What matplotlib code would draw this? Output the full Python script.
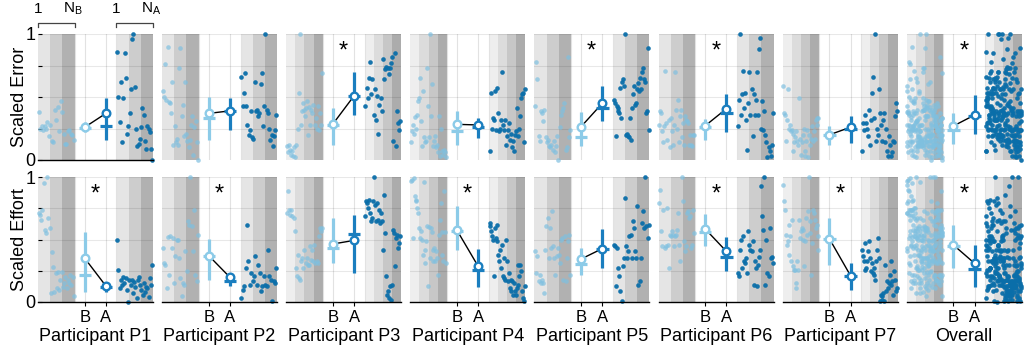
import numpy as np
import matplotlib.pyplot as plt
from matplotlib.transforms import blended_transform_factory

plt.rcParams['font.family'] = ['Liberation Sans', 'DejaVu Sans']
plt.rcParams['mathtext.fontset'] = 'custom'
plt.rcParams['mathtext.rm'] = 'Liberation Sans'

# ---- per-trial scaled error / effort, before (B) and after (A) ----
p1_err_B = [0.38,0.25,0.27,0.24,0.27,0.25,0.30,0.19,0.28,0.15,0.14,0.40,0.32,0.42,0.23,0.47,0.38,0.21,0.13,0.13,0.23,0.24,0.21,0.20,0.16]
p1_err_A = [0.86,0.50,0.30,0.62,0.14,0.49,0.85,0.65,0.21,0.27,0.37,0.56,0.96,1.0,0.58,0.25,0.11,0.13,0.17,0.26,0.41,0.36,0.15,0.09,0.27,0.25,0.22,0.09,0.0]
p1_eff_B = [0.71,0.70,0.66,0.74,0.95,0.58,0.55,1.0,0.67,0.59,0.07,0.40,0.28,0.08,0.23,0.11,0.24,0.10,0.18,0.24,0.12,0.15,0.20,0.11,0.18,0.15,0.22,0.14,0.20,0.05]
p1_eff_A = [0.50,0.26,0.11,0.18,0.14,0.20,0.15,0.19,0.10,0.0,0.18,0.14,0.18,0.07,0.16,0.12,0.03,0.18,0.20,0.14,0.10,0.06,0.15,0.08,0.12,0.11,0.04,0.19,0.14,0.30]

p2_err_B = [0.55,0.50,0.76,0.48,0.90,0.46,0.45,0.37,0.62,0.12,0.27,0.14,0.17,0.12,0.73,0.89,0.35,0.44,0.19,0.62,0.21,0.15,0.10,0.16,0.28,0.35,0.04,0.26,0.31,0.14,0.0]
p2_err_A = [0.66,0.43,0.53,0.69,0.43,0.28,0.20,0.24,0.39,0.18,0.17,0.62,0.39,0.40,0.35,0.37,0.60,0.69,0.27,0.43,1.0,0.40,0.37,0.25,0.16,0.20,0.11,0.19,0.24,0.36]
p2_eff_B = [0.43,0.31,0.30,0.11,0.52,0.22,0.53,0.43,0.51,0.15,0.37,0.50,0.50,0.35,0.19,0.05,0.15,0.14,0.41,0.25,0.65,0.62,1.0,0.61,0.41,0.74,0.22,0.17,0.54]
p2_eff_A = [0.03,0.10,0.13,0.27,0.62,0.33,0.14,0.23,0.17,0.21,0.37,0.14,0.30,0.23,0.09,0.13,0.21,0.14,0.13,0.42,0.21,0.18,0.01,0.17,0.15,0.27]

p3_err_B = [0.11,0.06,0.12,0.08,0.04,0.07,0.03,0.10,0.02,0.12,0.25,0.53,1.0,0.28,0.39,0.45,0.40,0.35,0.41,0.47,0.20,0.42,0.28,0.40,0.37,0.44,0.28,0.33,0.25,0.43,0.24,0.37,0.28,0.69]
p3_err_A = [0.43,0.57,0.49,0.65,0.78,0.52,0.64,0.36,0.56,0.32,0.51,0.21,0.44,0.49,0.39,0.80,0.64,0.72,0.74,0.73,0.68,0.73,0.77,0.82,0.15,0.85,0.11,0.39,0.29,0.24,0.31]
p3_eff_B = [0.71,0.89,0.74,0.70,0.74,0.69,0.67,0.57,0.27,0.21,0.38,0.19,0.18,0.33,0.35,0.27,0.42,0.31,0.35,0.30,0.30,0.45,0.34,0.42,0.33,0.46,0.31,0.33,0.31,0.53,0.59,0.57,0.59]
p3_eff_A = [0.69,0.81,0.79,0.75,0.82,0.71,0.65,0.67,0.81,1.0,0.78,0.65,0.79,0.66,0.74,0.63,0.71,0.65,0.42,0.86,0.55,0.21,0.06,0.09,0.03,0.13,0.02,0.14,0.58,0.55,0.29,0.51,0.54,0.43,0.47,0.53]

p4_err_B = [0.14,0.23,0.28,0.21,0.34,0.25,0.36,0.47,0.49,0.65,0.31,0.11,0.55,0.18,0.14,0.15,0.73,0.43,0.18,1.0,0.35,0.60,0.11,0.15,0.19,0.10,0.12,0.06,0.35,0.03,0.25,0.07,0.04,0.08,0.06,0.02]
p4_err_A = [0.07,0.53,0.25,0.33,0.32,0.55,0.24,0.57,0.37,0.23,0.25,0.32,0.70,0.28,0.24,0.32,0.12,0.19,0.24,0.29,0.16,0.21,0.10,0.15,0.07,0.20,0.23,0.41,0.19,0.25,0.35,0.49,0.52,0.53,0.14,0.56]
p4_eff_B = [0.97,0.98,0.51,0.99,0.85,0.81,0.82,0.75,0.71,0.59,0.51,0.57,0.50,0.38,0.96,0.42,0.31,0.49,0.61,0.13,0.60,0.35,0.59,0.56,0.33,0.42,0.43,0.33,0.41,0.35,0.22,0.54,0.66,0.79,0.38,0.56,0.33,0.89,0.56,0.31]
p4_eff_A = [0.63,0.61,0.57,0.53,0.50,0.21,0.59,0.51,0.62,0.49,0.38,0.33,0.42,0.27,0.46,0.21,0.19,0.35,0.18,0.50,0.33,0.17,0.23,0.11,0.18,0.09,0.17,0.06,0.15,0.09,0.06,0.11,0.30,0.14,0.21,0.30,0.25,0.09,0.03,0.01,0.13]

p5_err_B = [0.43,0.78,0.64,0.19,0.15,0.39,0.37,0.31,0.40,0.18,0.14,0.16,0.11,0.10,0.12,0.08,0.15,0.06,0.11,0.19,0.0,0.26,0.36,0.39,0.41,0.45,0.08,0.10,0.82,0.18,0.24]
p5_err_A = [0.48,0.45,0.19,0.43,0.41,0.39,0.37,0.57,0.33,0.62,0.64,0.59,1.0,0.20,0.21,0.19,0.18,0.33,0.16,0.41,0.52,0.59,0.44,0.45,0.56,0.61,0.55,0.65,0.56,0.70,0.73,0.64,0.62,0.37,0.39,0.89,0.24]
p5_eff_B = [0.41,0.23,0.37,0.17,0.22,0.15,0.18,0.15,0.07,0.42,0.61,0.67,0.35,0.59,0.43,0.73,0.45,0.35,0.22,0.37,0.43,0.38,0.31,0.50,0.51,0.18,0.53,0.17,0.35,0.49,0.54,0.22]
p5_eff_A = [0.46,0.45,0.13,0.43,0.27,0.21,0.09,0.01,0.29,0.35,0.83,0.45,0.35,0.41,0.53,0.54,0.35,0.65,0.59,0.41,0.35,0.77,0.14,0.17,0.35,0.63,0.73,0.59,1.0,0.61,0.51,0.62]

p6_err_B = [0.28,0.39,0.37,0.23,0.14,0.27,0.71,0.29,0.16,0.32,0.10,0.33,0.23,0.12,0.28,0.70,0.40,0.25,0.48,0.14,0.35,0.40,0.18,0.29,0.12,0.35,0.32,0.31,0.29,0.12,0.20,0.12,0.11,0.20,0.20]
p6_err_A = [0.27,0.48,1.0,0.36,0.52,0.71,0.41,0.53,0.32,0.08,0.45,0.70,0.36,0.56,0.19,0.52,0.36,0.48,0.70,0.36,0.88,0.97,0.25,0.47,0.24,0.39,0.20,0.14,0.02,0.10,0.07,0.03,0.12,0.37]
p6_eff_B = [0.79,0.90,0.57,0.45,0.74,0.43,0.45,0.75,0.46,0.27,0.54,0.53,0.57,0.54,0.45,0.53,0.54,0.58,0.71,0.46,0.33,1.0,0.81,0.49,0.41,0.45,0.71,0.73,0.67,0.69,0.43,0.46,0.74,0.55]
p6_eff_A = [0.23,0.21,0.42,0.50,0.27,0.53,0.33,0.31,0.35,0.23,0.57,0.46,0.42,0.41,0.49,0.14,0.33,0.27,0.13,0.30,0.36,0.42,0.93,0.69,0.58,1.0,0.14,0.50,0.23,0.21,0.59,0.35,0.36,0.31]

p7_err_B = [0.59,0.37,0.36,0.15,0.32,0.56,0.25,0.28,0.23,0.24,0.07,0.21,0.14,0.18,0.23,0.15,0.12,0.49,0.17,0.04,0.14,0.20,0.25,0.03,0.07,0.15,0.24,0.02,0.20,0.12,0.17,0.27,0.15,0.23,0.17,0.32,0.28,0.33,0.33]
p7_err_A = [0.07,0.29,0.24,0.36,0.29,0.25,0.19,0.40,0.12,0.32,0.53,0.66,0.33,1.0,0.15,0.25,0.20,0.56,0.37,0.28,0.15,0.32,0.37,0.14,0.25,0.07,0.03,0.19,0.12,0.03,0.06,0.15,0.14,0.35,0.45,0.39]
p7_eff_B = [0.94,0.81,0.74,0.54,0.46,0.49,0.62,0.38,0.53,0.33,0.66,0.29,0.26,0.26,0.11,0.15,0.33,0.26,0.66,0.51,0.57,0.59,0.58,0.50,0.29,0.49,0.67,0.54,0.73,1.0,0.65,0.55,0.22,0.47,0.74,0.71,0.66,0.59,0.62,0.53,0.42]
p7_eff_A = [0.42,0.37,0.33,0.26,0.47,0.27,0.33,0.41,0.49,0.35,0.25,0.31,0.23,0.27,0.22,0.18,0.33,0.42,0.51,0.35,0.01,0.06,0.02,0.05,0.07,0.01,0.30,0.09,0.17,0.11,0.15,0.22,0.33,0.14,0.17,0.06,0.25,0.18,0.09,0.11]

# ---- summary markers (P1..P7, Overall): mean (circle), median (bar), range ----
err_B_mean = [0.26, 0.37, 0.286, 0.283, 0.265, 0.272, 0.20, 0.27]
err_B_med  = [0.255, 0.333, 0.28, 0.228, 0.18, 0.262, 0.196, 0.238]
err_B_lo   = [0.225, 0.156, 0.12, 0.122, 0.108, 0.161, 0.122, 0.13]
err_B_hi   = [0.30, 0.50, 0.41, 0.386, 0.38, 0.328, 0.267, 0.37]
err_A_mean = [0.37, 0.39, 0.51, 0.278, 0.45, 0.407, 0.26, 0.357]
err_A_med  = [0.27, 0.386, 0.505, 0.26, 0.413, 0.373, 0.246, 0.35]
err_A_lo   = [0.16, 0.235, 0.354, 0.175, 0.312, 0.222, 0.135, 0.21]
err_A_hi   = [0.49, 0.49, 0.70, 0.333, 0.59, 0.52, 0.346, 0.516]
eff_B_mean = [0.35, 0.37, 0.464, 0.573, 0.344, 0.584, 0.507, 0.456]
eff_B_med  = [0.22, 0.37, 0.432, 0.565, 0.307, 0.56, 0.507, 0.448]
eff_B_lo   = [0.08, 0.179, 0.312, 0.419, 0.219, 0.445, 0.299, 0.269]
eff_B_hi   = [0.56, 0.507, 0.672, 0.765, 0.432, 0.707, 0.672, 0.616]
eff_A_mean = [0.128, 0.197, 0.493, 0.285, 0.427, 0.405, 0.211, 0.309]
eff_A_med  = [0.12, 0.165, 0.547, 0.253, 0.424, 0.357, 0.205, 0.261]
eff_A_lo   = [0.08, 0.125, 0.232, 0.12, 0.272, 0.245, 0.099, 0.123]
eff_A_hi   = [0.16, 0.232, 0.70, 0.427, 0.584, 0.517, 0.312, 0.456]

err_sig = [0, 0, 1, 0, 1, 1, 0, 1]
eff_sig = [1, 1, 0, 1, 0, 1, 1, 1]

names = ['Participant P1', 'Participant P2', 'Participant P3', 'Participant P4',
         'Participant P5', 'Participant P6', 'Participant P7', 'Overall']
n_sessions = [3, 3, 4, 4, 3, 3, 4, 4]

err_B = [p1_err_B, p2_err_B, p3_err_B, p4_err_B, p5_err_B, p6_err_B, p7_err_B]
err_A = [p1_err_A, p2_err_A, p3_err_A, p4_err_A, p5_err_A, p6_err_A, p7_err_A]
eff_B = [p1_eff_B, p2_eff_B, p3_eff_B, p4_eff_B, p5_eff_B, p6_eff_B, p7_eff_B]
eff_A = [p1_eff_A, p2_eff_A, p3_eff_A, p4_eff_A, p5_eff_A, p6_eff_A, p7_eff_A]

LIGHT = '#7fc0e0'
DARK = '#0a6ea9'
B_COL = '#8ccbe8'
A_COL = '#1a7ebf'
band_cols = {3: ['#e5e5e5', '#cdcdcd', '#b1b1b1'],
             4: ['#eeeeee', '#dcdcdc', '#c7c7c7', '#acacac']}

XB, XA = 1.28, 1.86
R0 = 2.15  # start of "after" block


def trial_x(vals):
    return list(np.linspace(0.02, 0.98, len(vals)))


def draw_panel(ax, before, after, xb, xa, k, stats, sig, first, bottom):
    nb = n_sessions[k]
    for start in (0.0, R0):
        for j, c in enumerate(band_cols[nb]):
            ax.axvspan(start + j / nb, start + (j + 1) / nb, color=c, lw=0, zorder=0)
    for gx in (1.0, XB, XA, R0):
        ax.axvline(gx, color='#e2e2e2', lw=0.8, zorder=0.5)
    for gy in (0.25, 0.5, 0.75, 1.0):
        ax.axhline(gy, color='black', alpha=0.09, lw=0.8, zorder=0.6)

    ax.scatter(xb, before, s=11, color=LIGHT, alpha=0.7, lw=0, zorder=2, clip_on=False)
    ax.scatter([R0 + v for v in xa], after, s=11, color=DARK, alpha=0.95, lw=0,
               zorder=2, clip_on=False)

    bm, bmed, blo, bhi, am, amed, alo, ahi = stats
    ax.plot([XB, XA], [bm, am], color='black', lw=1.0, zorder=3)
    for x, m, md, lo, hi, col in ((XB, bm, bmed, blo, bhi, B_COL),
                                  (XA, am, amed, alo, ahi, A_COL)):
        ax.plot([x, x], [lo, hi], color=col, lw=2.3, solid_capstyle='butt', zorder=4)
        ax.plot([x - 0.17, x + 0.17], [md, md], color=col, lw=2.3,
                solid_capstyle='butt', zorder=4)
        ax.plot([x], [m], 'o', mfc='white', mec=col, mew=1.7, ms=5.5, zorder=5)
    if sig:
        ax.text((XB + XA) / 2, 0.86, '*', ha='center', va='center', fontsize=17)

    ax.set_xlim(0, R0 + 1.0)
    ax.set_ylim(0, 1)
    for s in ('top', 'right', 'left'):
        ax.spines[s].set_visible(False)
    ax.spines['bottom'].set_linewidth(1.0)
    ax.spines['bottom'].set_visible(first or bottom)
    ax.set_yticks([0, 0.25, 0.5, 0.75, 1])
    if first:
        ax.set_yticklabels(['0', '', '', '', '1'], fontsize=13)
        ax.tick_params(axis='y', direction='in', length=3, width=0.8, pad=2)
    else:
        ax.set_yticklabels([])
        ax.tick_params(axis='y', length=0)
    ax.set_xticks([XB, XA])
    if bottom:
        ax.set_xticklabels(['B', 'A'], fontsize=12)
        ax.tick_params(axis='x', direction='out', length=3, width=0.8, pad=3)
    else:
        ax.set_xticklabels([])
        ax.tick_params(axis='x', length=0)


fig = plt.figure(figsize=(10.24, 3.53), dpi=100)
W, H = 1024.0, 353.0
pw = 115.0
rows = [(34.0, 160.0), (177.0, 302.0)]

for k in range(8):
    left = 38.0 + 124.1 * k
    for r, (top, bot) in enumerate(rows):
        ax = fig.add_axes([left / W, 1 - bot / H, pw / W, (bot - top) / H])
        if r == 0:
            bl, al = err_B, err_A
            stats = (err_B_mean[k], err_B_med[k], err_B_lo[k], err_B_hi[k],
                     err_A_mean[k], err_A_med[k], err_A_lo[k], err_A_hi[k])
            sig = err_sig[k]
        else:
            bl, al = eff_B, eff_A
            stats = (eff_B_mean[k], eff_B_med[k], eff_B_lo[k], eff_B_hi[k],
                     eff_A_mean[k], eff_A_med[k], eff_A_lo[k], eff_A_hi[k])
            sig = eff_sig[k]
        if k < 7:
            before, after = bl[k], al[k]
            xb, xa = trial_x(before), trial_x(after)
        else:
            before = sum(bl, [])
            after = sum(al, [])
            xb = sum([trial_x(v) for v in bl], [])
            xa = sum([trial_x(v) for v in al], [])
        draw_panel(ax, before, after, xb, xa, k, stats, sig, k == 0, r == 1)
        if k == 0:
            ax.set_ylabel('Scaled Error' if r == 0 else 'Scaled Effort',
                          fontsize=13, labelpad=-2)
        if r == 1:
            ax.set_xlabel(names[k], fontsize=13, labelpad=2)
        if k == 0 and r == 0:
            tr = blended_transform_factory(ax.transData, ax.transAxes)
            for x0, x1, lab in ((0.0, 1.0, r'N$_{\rm B}$'), (R0, R0 + 1.0, r'N$_{\rm A}$')):
                ax.plot([x0, x0, x1, x1], [1.055, 1.09, 1.09, 1.055], color='#444444',
                        lw=0.9, transform=tr, clip_on=False)
                ax.text(x0, 1.2, '1', ha='center', va='center', fontsize=11,
                        transform=tr)
                ax.text(x1 - 0.05, 1.2, lab, ha='center', va='center', fontsize=11,
                        transform=tr)

fig.savefig('out.png', dpi=100)
